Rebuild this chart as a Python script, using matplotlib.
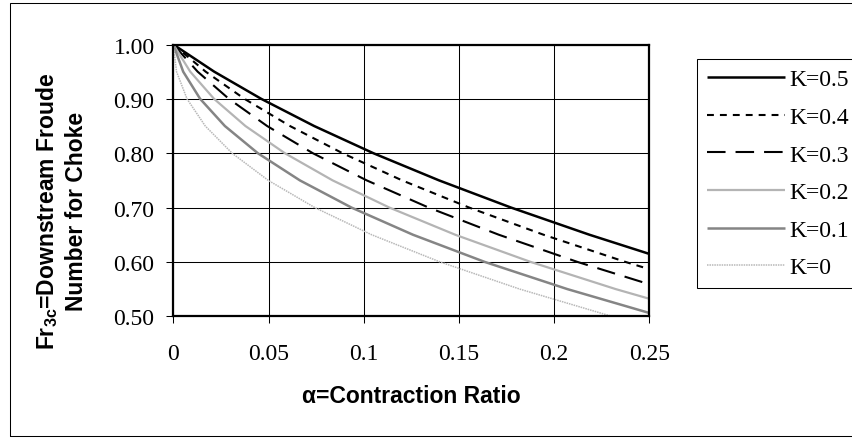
import matplotlib
matplotlib.use("Agg")
import matplotlib.pyplot as plt
from matplotlib.patches import Rectangle

# ---- data ----
series_labels = ["K=0.5", "K=0.4", "K=0.3", "K=0.2", "K=0.1", "K=0"]

# downstream Froude number levels (y) shared by all curves
fr_levels = [1.00, 0.95, 0.90, 0.85, 0.80, 0.75, 0.70, 0.65, 0.60, 0.55, 0.50]

# contraction ratio alpha (x) at which each curve reaches the levels above
alpha_k05 = [0, 0.0215, 0.0462, 0.0740, 0.1051, 0.1396, 0.1774, 0.2186, 0.2632]
alpha_k04 = [0, 0.0170, 0.0374, 0.0613, 0.0889, 0.1202, 0.1554, 0.1945, 0.2375, 0.2844]
alpha_k03 = [0, 0.0128, 0.0292, 0.0493, 0.0733, 0.1016, 0.1341, 0.1710, 0.2123, 0.2582]
alpha_k02 = [0, 0.0089, 0.0214, 0.0379, 0.0586, 0.0837, 0.1135, 0.1481, 0.1877, 0.2324, 0.2821]
alpha_k01 = [0, 0.0052, 0.0141, 0.0271, 0.0444, 0.0665, 0.0936, 0.1259, 0.1636, 0.2070, 0.2560]
alpha_k00 = [0, 0.0017, 0.0072, 0.0168, 0.0309, 0.0499, 0.0743, 0.1042, 0.1401, 0.1820, 0.2302]

x_ticks = [0, 0.05, 0.10, 0.15, 0.20, 0.25]
x_ticklabels = ["0", "0.05", "0.1", "0.15", "0.2", "0.25"]
y_ticks = [0.50, 0.60, 0.70, 0.80, 0.90, 1.00]
y_ticklabels = ["0.50", "0.60", "0.70", "0.80", "0.90", "1.00"]

# ---- figure ----
W, H = 853, 439
plt.rcParams["mathtext.fontset"] = "custom"
plt.rcParams["mathtext.bf"] = "Liberation Sans:bold"
plt.rcParams["mathtext.rm"] = "Liberation Sans:bold"

fig = plt.figure(figsize=(W / 100, H / 100), dpi=100)
fig.patch.set_facecolor("white")

def px(x0, y0):
    return x0 / W, 1 - y0 / H

ax_l, ax_r, ax_t, ax_b = 173.3, 649.3, 45.5, 317.3
ax = fig.add_axes([ax_l / W, 1 - ax_b / H, (ax_r - ax_l) / W, (ax_b - ax_t) / H])

styles = [
    dict(color="black", lw=1.8, ls="-"),
    dict(color="black", lw=1.5, ls=(0, (3.3, 2.9))),
    dict(color="black", lw=1.5, ls=(0, (8.9, 4.8))),
    dict(color="#b4b4b4", lw=1.6, ls="-"),
    dict(color="#858585", lw=1.8, ls="-"),
    dict(color="#b8b8b8", lw=1.1, ls=(0, (1, 0.6))),
]
alphas = [alpha_k05, alpha_k04, alpha_k03, alpha_k02, alpha_k01, alpha_k00]
for a, lab, st in zip(alphas, series_labels, styles):
    ax.plot(a, fr_levels[:len(a)], label=lab, solid_capstyle="butt",
            dash_capstyle="butt", **st)

ax.set_xlim(0, 0.25)
ax.set_ylim(0.5, 1.0)
ax.set_xticks(x_ticks)
ax.set_xticklabels(x_ticklabels)
ax.set_yticks(y_ticks)
ax.set_yticklabels(y_ticklabels)
ax.grid(True, color="black", lw=0.75)
ax.set_axisbelow(True)
for sp in ax.spines.values():
    sp.set_linewidth(1.6)
    sp.set_color("black")
ax.tick_params(direction="out", length=5, width=0.75, color="black")
ax.tick_params(axis="y", pad=8.5)
ax.tick_params(axis="x", pad=14.5)
for t in ax.get_xticklabels() + ax.get_yticklabels():
    t.set_fontfamily("Liberation Serif")
    t.set_fontsize(17)

# axis titles
fig.text(*px(411.3, 397), "\u03b1=Contraction Ratio", ha="center", va="center",
         fontfamily="Liberation Sans", fontweight="bold", fontsize=16.5)
fig.text(*px(61, 211), "Fr$_{\\mathbf{3c}}$=Downstream Froude\nNumber for Choke",
         rotation=90, ha="center", va="center", multialignment="center",
         fontfamily="Liberation Sans", fontweight="bold", fontsize=16.5,
         linespacing=1.3)

# legend
leg = ax.legend(loc="upper left", bbox_to_anchor=px(697, 60),
                bbox_transform=fig.transFigure, borderaxespad=0,
                prop=dict(family="Liberation Serif", size=17),
                handlelength=3.3, handletextpad=0.2, labelspacing=0.68,
                borderpad=0.42, fancybox=False, framealpha=1, edgecolor="black")
leg.get_frame().set_linewidth(0.75)

# outer chart border
x0, y0 = px(10, 437)
fig.add_artist(Rectangle((x0, y0), 1.2, (437 - 4) / H, transform=fig.transFigure,
                         fill=False, lw=0.75, edgecolor="black", clip_on=False))

fig.savefig("out.png", dpi=100)
